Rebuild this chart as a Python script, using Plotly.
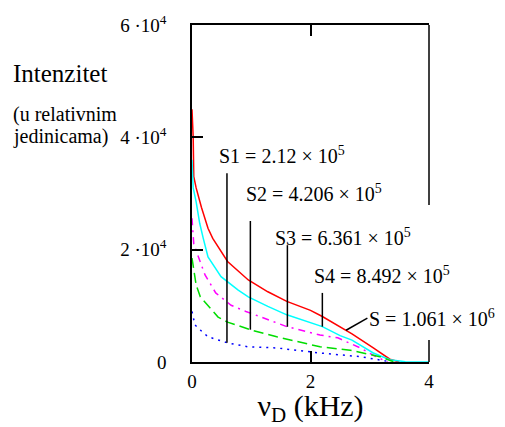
import numpy as np
import plotly.graph_objects as go

# ---- data (frequency in kHz, intensity in relative units) ----
red_x = [0, 0.02, 0.03, 0.07, 0.16, 0.27, 0.35, 0.6, 0.95, 1.28, 1.6, 2.0, 2.2, 2.5, 2.7, 3.06, 3.34, 3.5]
red_y = [45000, 40000, 33000, 31000, 27500, 23800, 22000, 17900, 14600, 12500, 10800, 9200, 8100, 6300, 5000, 2500, 500, 0]

cyan_x = [0, 0.02, 0.07, 0.13, 0.19, 0.27, 0.49, 0.78, 0.95, 1.28, 1.6, 2.2, 2.5, 2.7, 3.06, 3.34, 3.6, 4.0]
cyan_y = [36000, 31000, 28500, 24700, 22000, 18700, 15200, 12800, 11600, 9900, 8400, 6300, 4700, 3900, 1600, 400, 50, 0]

mag_x = [0, 0.03, 0.14, 0.22, 0.4, 0.66, 0.91, 1.23, 1.6, 2.16, 2.46, 2.84, 3.06, 3.3]
mag_y = [25600, 21000, 17800, 15500, 12300, 10100, 9000, 7800, 6300, 4800, 4300, 2500, 1200, 0]

green_x = [0, 0.07, 0.14, 0.44, 0.6, 1.0, 1.43, 2.16, 2.67, 3.17, 3.4]
green_y = [18500, 13700, 11600, 8000, 7100, 5700, 4500, 2700, 2100, 950, 50]

blue_x = [0, 0.05, 0.14, 0.27, 0.6, 0.95, 1.43, 2.16, 2.84, 3.34]
blue_y = [9000, 6600, 5700, 4500, 3400, 2700, 2500, 1600, 950, 50]

# labels: name, value text
label_names = ["S1", "S2", "S3", "S4", "S"]
label_values = ["2.12 × 10<sup>5</sup>", "4.206 × 10<sup>5</sup>", "6.361 × 10<sup>5</sup>",
                "8.492 × 10<sup>5</sup>", "1.061 × 10<sup>6</sup>"]
label_x = [0.43, 0.885, 1.36, 2.03, 2.96]
label_y = [36900, 30100, 22300, 15500, 7800]
pointer_x = [0.59, 0.985, 1.61, 2.2, 2.6]
pointer_top = [33600, 25100, 20800, 12300, None]

y_tickvals = [0, 20000, 40000, 60000]
y_ticktext = ["0", "2 ·10<sup>4</sup>", "4 ·10<sup>4</sup>", "6 ·10<sup>4</sup>"]
x_tickvals = [0, 2, 4]
x_ticktext = ["0", "2", "4"]

SERIF = "Liberation Serif, Times New Roman, serif"

series = [
    (red_x, red_y, "#ff0000", "solid"),
    (cyan_x, cyan_y, "#00ffff", "solid"),
    (mag_x, mag_y, "#ff00ff", "7px,5px,2px,5px"),
    (green_x, green_y, "#00dd00", "10px,5px"),
    (blue_x, blue_y, "#0000ff", "2px,5px"),
]
# order of curves pointed at by the labels S1..S
target = [4, 3, 2, 1, 0]

fig = go.Figure()
for xs, ys, col, dash in series:
    fig.add_trace(go.Scatter(x=xs, y=ys, mode="lines",
                             line=dict(color=col, width=1.5, dash=dash),
                             showlegend=False, hoverinfo="skip"))

shapes = []
annotations = []
for i, (nm, val) in enumerate(zip(label_names, label_values)):
    xs, ys = series[target[i]][0], series[target[i]][1]
    yc = float(np.interp(pointer_x[i], xs, ys))
    if pointer_top[i] is not None:
        shapes.append(dict(type="line", xref="x", yref="y",
                           x0=pointer_x[i], x1=pointer_x[i], y0=pointer_top[i], y1=yc,
                           line=dict(color="black", width=1.5)))
    else:
        shapes.append(dict(type="line", xref="x", yref="y",
                           x0=pointer_x[i], x1=label_x[i], y0=yc, y1=label_y[i],
                           line=dict(color="black", width=1.5)))
    annotations.append(dict(x=label_x[i], y=label_y[i], xref="x", yref="y",
                            text=f"{nm} = {val}", showarrow=False,
                            xanchor="left", yanchor="middle",
                            font=dict(family=SERIF, size=20, color="black")))

# right border of the box, broken where the labels sit
shapes.append(dict(type="line", xref="paper", yref="paper", x0=1, x1=1, y0=1, y1=0.466,
                   line=dict(color="black", width=1.5)))
shapes.append(dict(type="line", xref="paper", yref="paper", x0=1, x1=1, y0=0.065, y1=0,
                   line=dict(color="black", width=1.5)))

annotations += [
    dict(x=-0.765, y=0.857, xref="paper", yref="paper", text="Intenzitet",
         showarrow=False, xanchor="left", yanchor="middle",
         font=dict(family=SERIF, size=25, color="black")),
    dict(x=-0.765, y=0.733, xref="paper", yref="paper", text="(u relativnim",
         showarrow=False, xanchor="left", yanchor="middle",
         font=dict(family=SERIF, size=20, color="black")),
    dict(x=-0.765, y=0.668, xref="paper", yref="paper", text="jedinicama)",
         showarrow=False, xanchor="left", yanchor="middle",
         font=dict(family=SERIF, size=20, color="black")),
]

# the page body adds an 8px margin, so the figure is 8px smaller than the window
fig.update_layout(
    width=497, height=419,
    margin=dict(l=184, r=76, t=17, b=65, autoexpand=False),
    paper_bgcolor="white", plot_bgcolor="white",
    shapes=shapes, annotations=annotations,
    xaxis=dict(range=[0, 4], tickvals=x_tickvals, ticktext=x_ticktext,
               ticks="inside", ticklen=11, tickcolor="black", tickwidth=1.5,
               showline=True, linecolor="black", linewidth=1.5, mirror="ticks",
               showgrid=False, zeroline=False, ticklabelstandoff=1, automargin=False,
               tickfont=dict(family=SERIF, size=19, color="black"),
               title=dict(text="ν<sub>D</sub> (kHz)", standoff=12,
                          font=dict(family=SERIF, size=30, color="black"))),
    yaxis=dict(range=[0, 60000], tickvals=y_tickvals, ticktext=y_ticktext,
               ticks="inside", ticklen=11, tickcolor="black", tickwidth=1.5,
               showline=True, linecolor="black", linewidth=1.5, mirror=False,
               showgrid=False, zeroline=False, ticklabelstandoff=20, automargin=False,
               tickfont=dict(family=SERIF, size=19, color="black")),
)

fig.write_html("out.html")
